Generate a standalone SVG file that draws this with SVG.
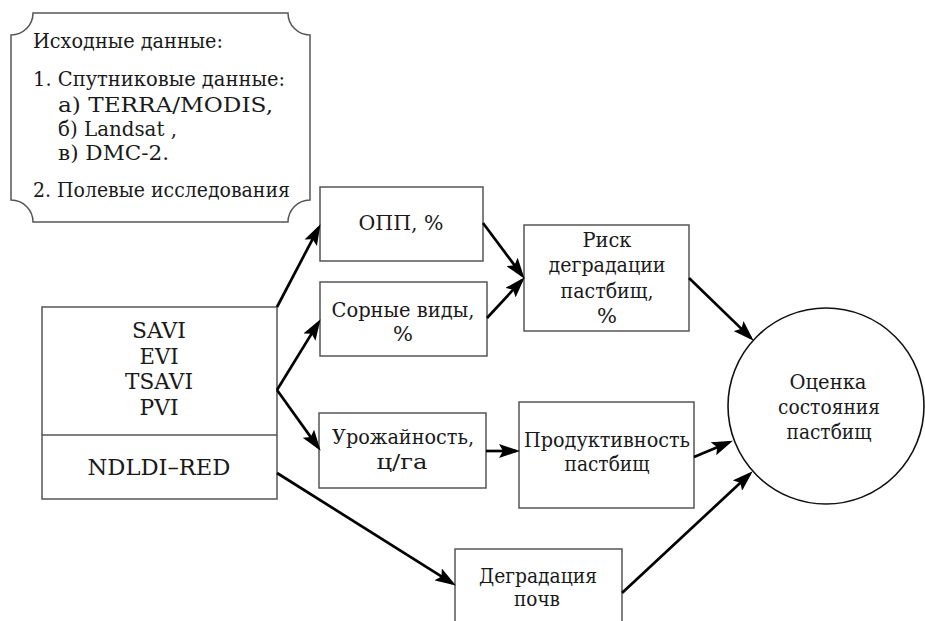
<svg xmlns="http://www.w3.org/2000/svg" width="925" height="621" viewBox="0 0 925 621">
  <defs>
    <marker id="arr" markerUnits="userSpaceOnUse" markerWidth="21" markerHeight="14" refX="17" refY="7" orient="auto">
      <path d="M0,0 L21,7 L0,14 L4,7 Z" fill="#000"/>
    </marker>
    <style>
      .box { fill: #fff; stroke: #555; stroke-width: 1.5; }
      .circ { fill: #fff; stroke: #111; stroke-width: 1.6; }
      text { font-family: "DejaVu Serif", serif; fill: #1a1a1a; }
      .s21 { font-size: 19.5px; }
      .s22 { font-size: 21px; text-anchor: middle; }
      .s23 { font-size: 22px; text-anchor: middle; }
      .conn line { stroke: #000; stroke-width: 2.7; fill: none; marker-end: url(#arr); }
    </style>
  </defs>
  <rect width="925" height="621" fill="#fff"/>

  <g id="source">
    <path class="box" d="M11,35 A22,22 0 0 0 33,13 L288,13 A22,22 0 0 0 310,35 L310,200 A22,22 0 0 0 288,222 L33,222 A22,22 0 0 0 11,200 Z"/>
    <text class="s21" x="33" y="48" textLength="190" lengthAdjust="spacingAndGlyphs">Исходные данные:</text>
    <text class="s21" x="33" y="86" textLength="252" lengthAdjust="spacingAndGlyphs">1. Спутниковые данные:</text>
    <text class="s21" x="58" y="112" textLength="215" lengthAdjust="spacingAndGlyphs">а) TERRA/MODIS,</text>
    <text class="s21" x="58" y="136" textLength="119" lengthAdjust="spacingAndGlyphs">б) Landsat ,</text>
    <text class="s21" x="58" y="160" textLength="111" lengthAdjust="spacingAndGlyphs">в) DMC-2.</text>
    <text class="s21" x="33" y="197" textLength="257" lengthAdjust="spacingAndGlyphs">2. Полевые исследования</text>
  </g>

  <g id="indices">
    <rect class="box" x="42" y="307" width="235" height="192"/>
    <line x1="42" y1="435" x2="277" y2="435" stroke="#555" stroke-width="1.5"/>
    <text class="s23" x="159" y="338" textLength="54" lengthAdjust="spacingAndGlyphs">SAVI</text>
    <text class="s23" x="159" y="364" textLength="39" lengthAdjust="spacingAndGlyphs">EVI</text>
    <text class="s23" x="159" y="389" textLength="68" lengthAdjust="spacingAndGlyphs">TSAVI</text>
    <text class="s23" x="159" y="415" textLength="39" lengthAdjust="spacingAndGlyphs">PVI</text>
    <text class="s23" x="159" y="475" textLength="143" lengthAdjust="spacingAndGlyphs">NDLDI–RED</text>
  </g>

  <g id="opp">
    <rect class="box" x="320" y="187" width="163" height="74"/>
    <text class="s22" x="401" y="230" textLength="85" lengthAdjust="spacingAndGlyphs">ОПП, %</text>
  </g>

  <g id="weeds">
    <rect class="box" x="320" y="282" width="167" height="74"/>
    <text class="s22" x="403" y="317" textLength="143" lengthAdjust="spacingAndGlyphs">Сорные виды,</text>
    <text class="s22" x="403" y="341">%</text>
  </g>

  <g id="yield">
    <rect class="box" x="319" y="413" width="167" height="75"/>
    <text class="s22" x="403" y="444" textLength="142" lengthAdjust="spacingAndGlyphs">Урожайность,</text>
    <text class="s22" x="402" y="469" textLength="51" lengthAdjust="spacingAndGlyphs">ц/га</text>
  </g>

  <g id="risk">
    <rect class="box" x="524" y="225" width="165" height="106"/>
    <text class="s22" x="607" y="247" textLength="49" lengthAdjust="spacingAndGlyphs">Риск</text>
    <text class="s22" x="607" y="272" textLength="117" lengthAdjust="spacingAndGlyphs">деградации</text>
    <text class="s22" x="607" y="298" textLength="93" lengthAdjust="spacingAndGlyphs">пастбищ,</text>
    <text class="s22" x="607" y="323">%</text>
  </g>

  <g id="productivity">
    <rect class="box" x="519" y="402" width="175" height="106"/>
    <text class="s22" x="607" y="447" textLength="166" lengthAdjust="spacingAndGlyphs">Продуктивность</text>
    <text class="s22" x="607" y="471" textLength="85" lengthAdjust="spacingAndGlyphs">пастбищ</text>
  </g>

  <g id="soil">
    <rect class="box" x="455" y="549" width="167" height="80"/>
    <text class="s22" x="538" y="583" textLength="118" lengthAdjust="spacingAndGlyphs">Деградация</text>
    <text class="s22" x="537" y="606" textLength="46" lengthAdjust="spacingAndGlyphs">почв</text>
  </g>

  <g id="assessment">
    <circle class="circ" cx="826" cy="406" r="98"/>
    <text class="s22" x="828" y="389" textLength="77" lengthAdjust="spacingAndGlyphs">Оценка</text>
    <text class="s22" x="829" y="414" textLength="102" lengthAdjust="spacingAndGlyphs">состояния</text>
    <text class="s22" x="829" y="439" textLength="85" lengthAdjust="spacingAndGlyphs">пастбищ</text>
  </g>

  <g id="connectors" class="conn">
    <line x1="277" y1="307" x2="318.6" y2="227.7"/>
    <line x1="277" y1="390" x2="318.4" y2="322.6"/>
    <line x1="277" y1="390" x2="318.3" y2="447.6"/>
    <line x1="277" y1="473" x2="452.5" y2="583.4"/>
    <line x1="483" y1="223" x2="522.2" y2="275.6"/>
    <line x1="487" y1="318" x2="522" y2="280.2"/>
    <line x1="689" y1="278" x2="750.8" y2="337.9"/>
    <line x1="694" y1="457" x2="729.2" y2="442.2"/>
    <line x1="622" y1="593" x2="749.8" y2="474"/>
    <line x1="486" y1="451" x2="516" y2="451"/>
  </g>
</svg>
